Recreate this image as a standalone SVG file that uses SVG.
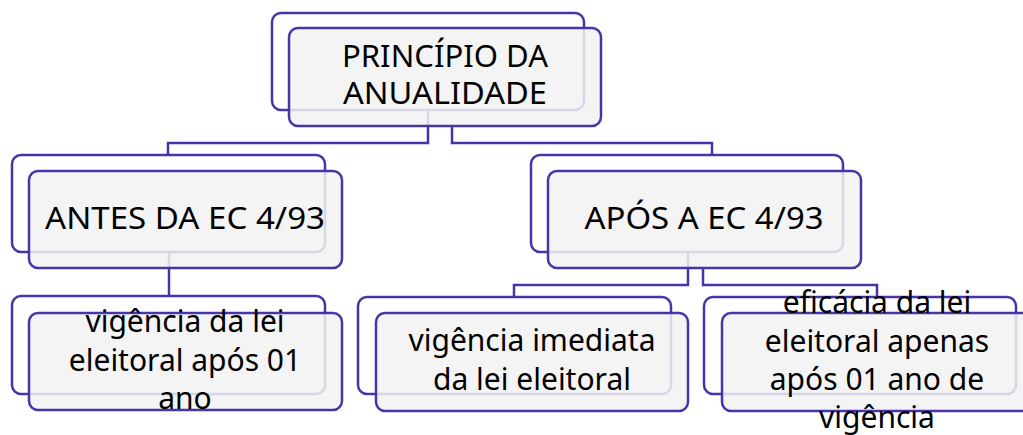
<svg xmlns="http://www.w3.org/2000/svg" width="1023" height="435" viewBox="0 0 1023 435">
<style>
.back{fill:#ffffff;stroke:#4634a8;stroke-width:2.5}
.front{fill:#f2f2f2;fill-opacity:0.85;stroke:#4634a8;stroke-width:2.5}
.con{fill:none;stroke:#4634a8;stroke-width:2.5}
text{font-family:"Noto Sans","DejaVu Sans",sans-serif;font-size:30px;fill:#000;text-anchor:middle}
</style>
<rect width="1023" height="435" fill="#ffffff"/>
<g id="connectors">
<polyline class="con" points="428,110 428,143 168,143 168,155"/>
<polyline class="con" points="452,126 452,143 712,143 712,155"/>
<line class="con" x1="169" y1="252" x2="169" y2="296"/>
<polyline class="con" points="688,252 688,285 514,285 514,297"/>
<polyline class="con" points="703,268 703,285 877,285 877,297"/>
</g>
<g id="n-principio">
<rect class="back" x="272" y="13" width="312" height="97" rx="9"/>
<rect class="front" x="289" y="28" width="312" height="98" rx="9"/>
<text x="445" y="67" textLength="206" lengthAdjust="spacingAndGlyphs">PRINCÍPIO DA</text>
<text x="445" y="104" textLength="204" lengthAdjust="spacingAndGlyphs">ANUALIDADE</text>
</g>
<g id="n-antes">
<rect class="back" x="12" y="155" width="313" height="97" rx="9"/>
<rect class="front" x="29" y="171" width="313" height="97" rx="9"/>
<text x="185" y="229" textLength="280" lengthAdjust="spacingAndGlyphs">ANTES DA EC 4/93</text>
</g>
<g id="n-apos">
<rect class="back" x="531" y="155" width="312" height="97" rx="9"/>
<rect class="front" x="548" y="171" width="313" height="97" rx="9"/>
<text x="704" y="229" textLength="239" lengthAdjust="spacingAndGlyphs">APÓS A EC 4/93</text>
</g>
<g id="n-vig-antes">
<rect class="back" x="12" y="296" width="313" height="98" rx="9"/>
<rect class="front" x="29" y="313" width="313" height="97" rx="9"/>
<text x="185" y="332">vigência da lei</text>
<text x="185" y="371">eleitoral após 01</text>
<text x="185" y="409">ano</text>
</g>
<g id="n-vig-imediata">
<rect class="back" x="358" y="297" width="313" height="97" rx="9"/>
<rect class="front" x="376" y="313" width="312" height="98" rx="9"/>
<text x="532" y="351">vigência imediata</text>
<text x="532" y="390">da lei eleitoral</text>
</g>
<g id="n-eficacia">
<rect class="back" x="704" y="297" width="312" height="97" rx="9"/>
<rect class="front" x="722" y="313" width="312" height="98" rx="9"/>
<text x="877" y="313">eficácia da lei</text>
<text x="877" y="352">eleitoral apenas</text>
<text x="877" y="390">após 01 ano de</text>
<text x="877" y="428">vigência</text>
</g>
</svg>
